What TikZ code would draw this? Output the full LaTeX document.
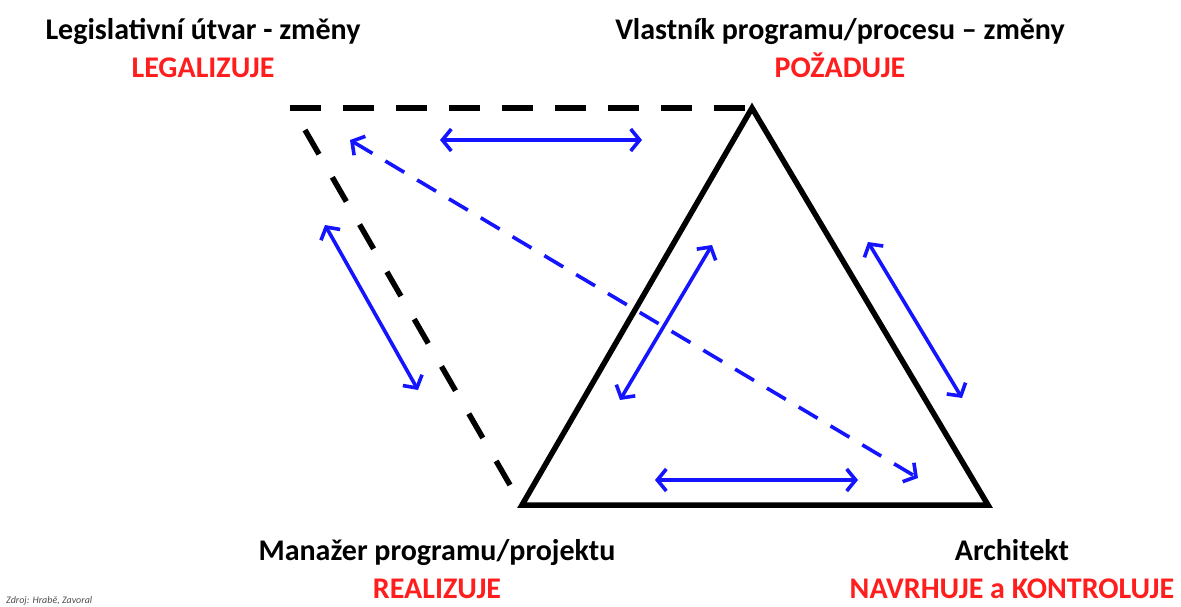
\documentclass[tikz,border=0pt]{standalone}
\usepackage{fontspec}
\setmainfont{Carlito}
\usetikzlibrary{positioning, arrows.meta}

\definecolor{rolered}{RGB}{255,30,30}
\definecolor{linkblue}{RGB}{20,20,255}

\tikzset{
    role/.style={font=\fontsize{30}{32}\selectfont\bfseries, inner sep=0pt, anchor=base},
    verb/.style={font=\fontsize{30}{32}\selectfont\bfseries, text=rolered, inner sep=0pt},
    side/.style={line width=5.5pt, line join=miter},
    link/.style={line width=3.6pt, draw=linkblue, <->}
}

\begin{document}
\begin{tikzpicture}[x=1pt, y=-1pt, >={Straight Barb[length=9pt, width=22pt]}]
    \useasboundingbox (0,0) rectangle (1181,607);

    % Vertices
    \coordinate (own) at (752,108);
    \coordinate (man) at (522,505);
    \coordinate (arch) at (988,505);
    \coordinate (legT) at (290,108);
    \coordinate (legB) at (305,130);
    \coordinate (manT) at (510,485);

    % Labels
    \node[role] (tleg) at (203,40) {Legislativní útvar - změny};
    \node[verb] (vleg) [below=38pt of tleg.base, anchor=base] {LEGALIZUJE};
    \node[role] (town) at (840,40) {Vlastník programu/procesu – změny};
    \node[verb] (vown) [below=38pt of town.base, anchor=base] {POŽADUJE};
    \node[role] (tman) at (437,560) {Manažer programu/projektu};
    \node[verb] (vman) [below=38pt of tman.base, anchor=base] {REALIZUJE};
    \node[role] (tarch) at (1012,560) {Architekt};
    \node[verb] (varch) [below=38pt of tarch.base, anchor=base] {NAVRHUJE a KONTROLUJE};
    \node[font=\fontsize{10}{11}\selectfont\itshape, text=black!70, anchor=west, inner sep=0pt] (src) at (6,601) {Zdroj: Hrabě, Zavoral};

    % Triangle and dashed links
    \draw[side] (own) -- (arch) -- (man) -- cycle;
    \draw[side, dash pattern=on 31pt off 22pt] (legT) -- (own);
    \draw[side, dash pattern=on 28pt off 26.6pt] (legB) -- (manT);

    % Arrow ends
    \coordinate (a1) at (440,140); \coordinate (a2) at (642,140);
    \coordinate (b1) at (325,225); \coordinate (b2) at (418,390);
    \coordinate (c1) at (712,245); \coordinate (c2) at (620,400);
    \coordinate (d1) at (868,242); \coordinate (d2) at (962,398);
    \coordinate (e1) at (655,480); \coordinate (e2) at (858,480);
    \coordinate (f1) at (350,140); \coordinate (f2) at (918,478);

    \draw[link] (a1) -- (a2);
    \draw[link] (b1) -- (b2);
    \draw[link] (c1) -- (c2);
    \draw[link] (d1) -- (d2);
    \draw[link] (e1) -- (e2);
    \draw[link, dash pattern=on 22pt off 15pt] (f1) -- (f2);
\end{tikzpicture}
\end{document}
